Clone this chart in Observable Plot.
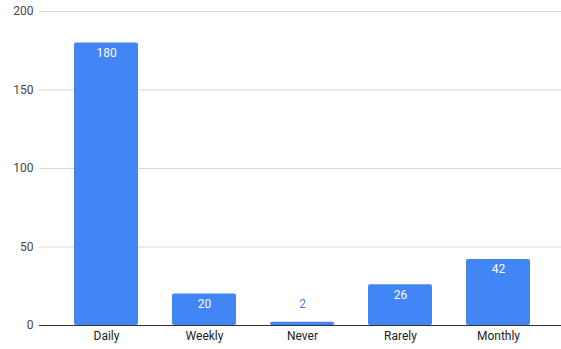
<!DOCTYPE html>
<html><head><meta charset="utf-8">
<script src="https://cdn.jsdelivr.net/npm/d3@7"></script>
<script src="https://cdn.jsdelivr.net/npm/@observablehq/plot@0.6"></script>
<style>body{margin:0;background:#fff}svg{display:block}</style>
</head><body><div id="chart"></div>
<script>
const categories = ["Daily", "Weekly", "Never", "Rarely", "Monthly"];
const values = [180, 20, 2, 26, 42];
const yTicks = [0, 50, 100, 150, 200];
const data = categories.map((c, i) => ({category: c, value: values[i]}));
const small = 10;
const chart = Plot.plot({
  width: 561, height: 349,
  marginTop: 11, marginBottom: 24, marginLeft: 39, marginRight: 0,
  style: {fontFamily: "Roboto, Arial, sans-serif", fontSize: "12px", background: "#fff"},
  x: {domain: categories, paddingInner: 0.35, paddingOuter: 0.175, insetLeft: 17, insetRight: 13, label: null, tickSize: 0, tickPadding: 6},
  y: {domain: [0, 200], ticks: yTicks, label: null, tickSize: 0, tickPadding: 6},
  marks: [
    Plot.ruleY(yTicks.filter(d => d > 0), {stroke: "#d9d9d9"}),
    Plot.barY(data, {x: "category", y: "value", fill: "#4285F4", rx: 2}),
    Plot.ruleY([0], {stroke: "#333"}),
    Plot.text(data.filter(d => d.value >= small), {x: "category", y: "value", text: d => String(d.value), fill: "#fff", dy: 10, fontSize: 12}),
    Plot.text(data.filter(d => d.value < small), {x: "category", y: "value", text: d => String(d.value), fill: "#4285F4", dy: -18, fontSize: 12}),
    Plot.axisX({tickSize: 0, tickPadding: 6, fill: "#222", fontSize: 12}),
    Plot.axisY({ticks: yTicks, tickSize: 0, tickPadding: 6, fill: "#444", fontSize: 12})
  ]
});
document.getElementById("chart").append(chart);
</script></body></html>
